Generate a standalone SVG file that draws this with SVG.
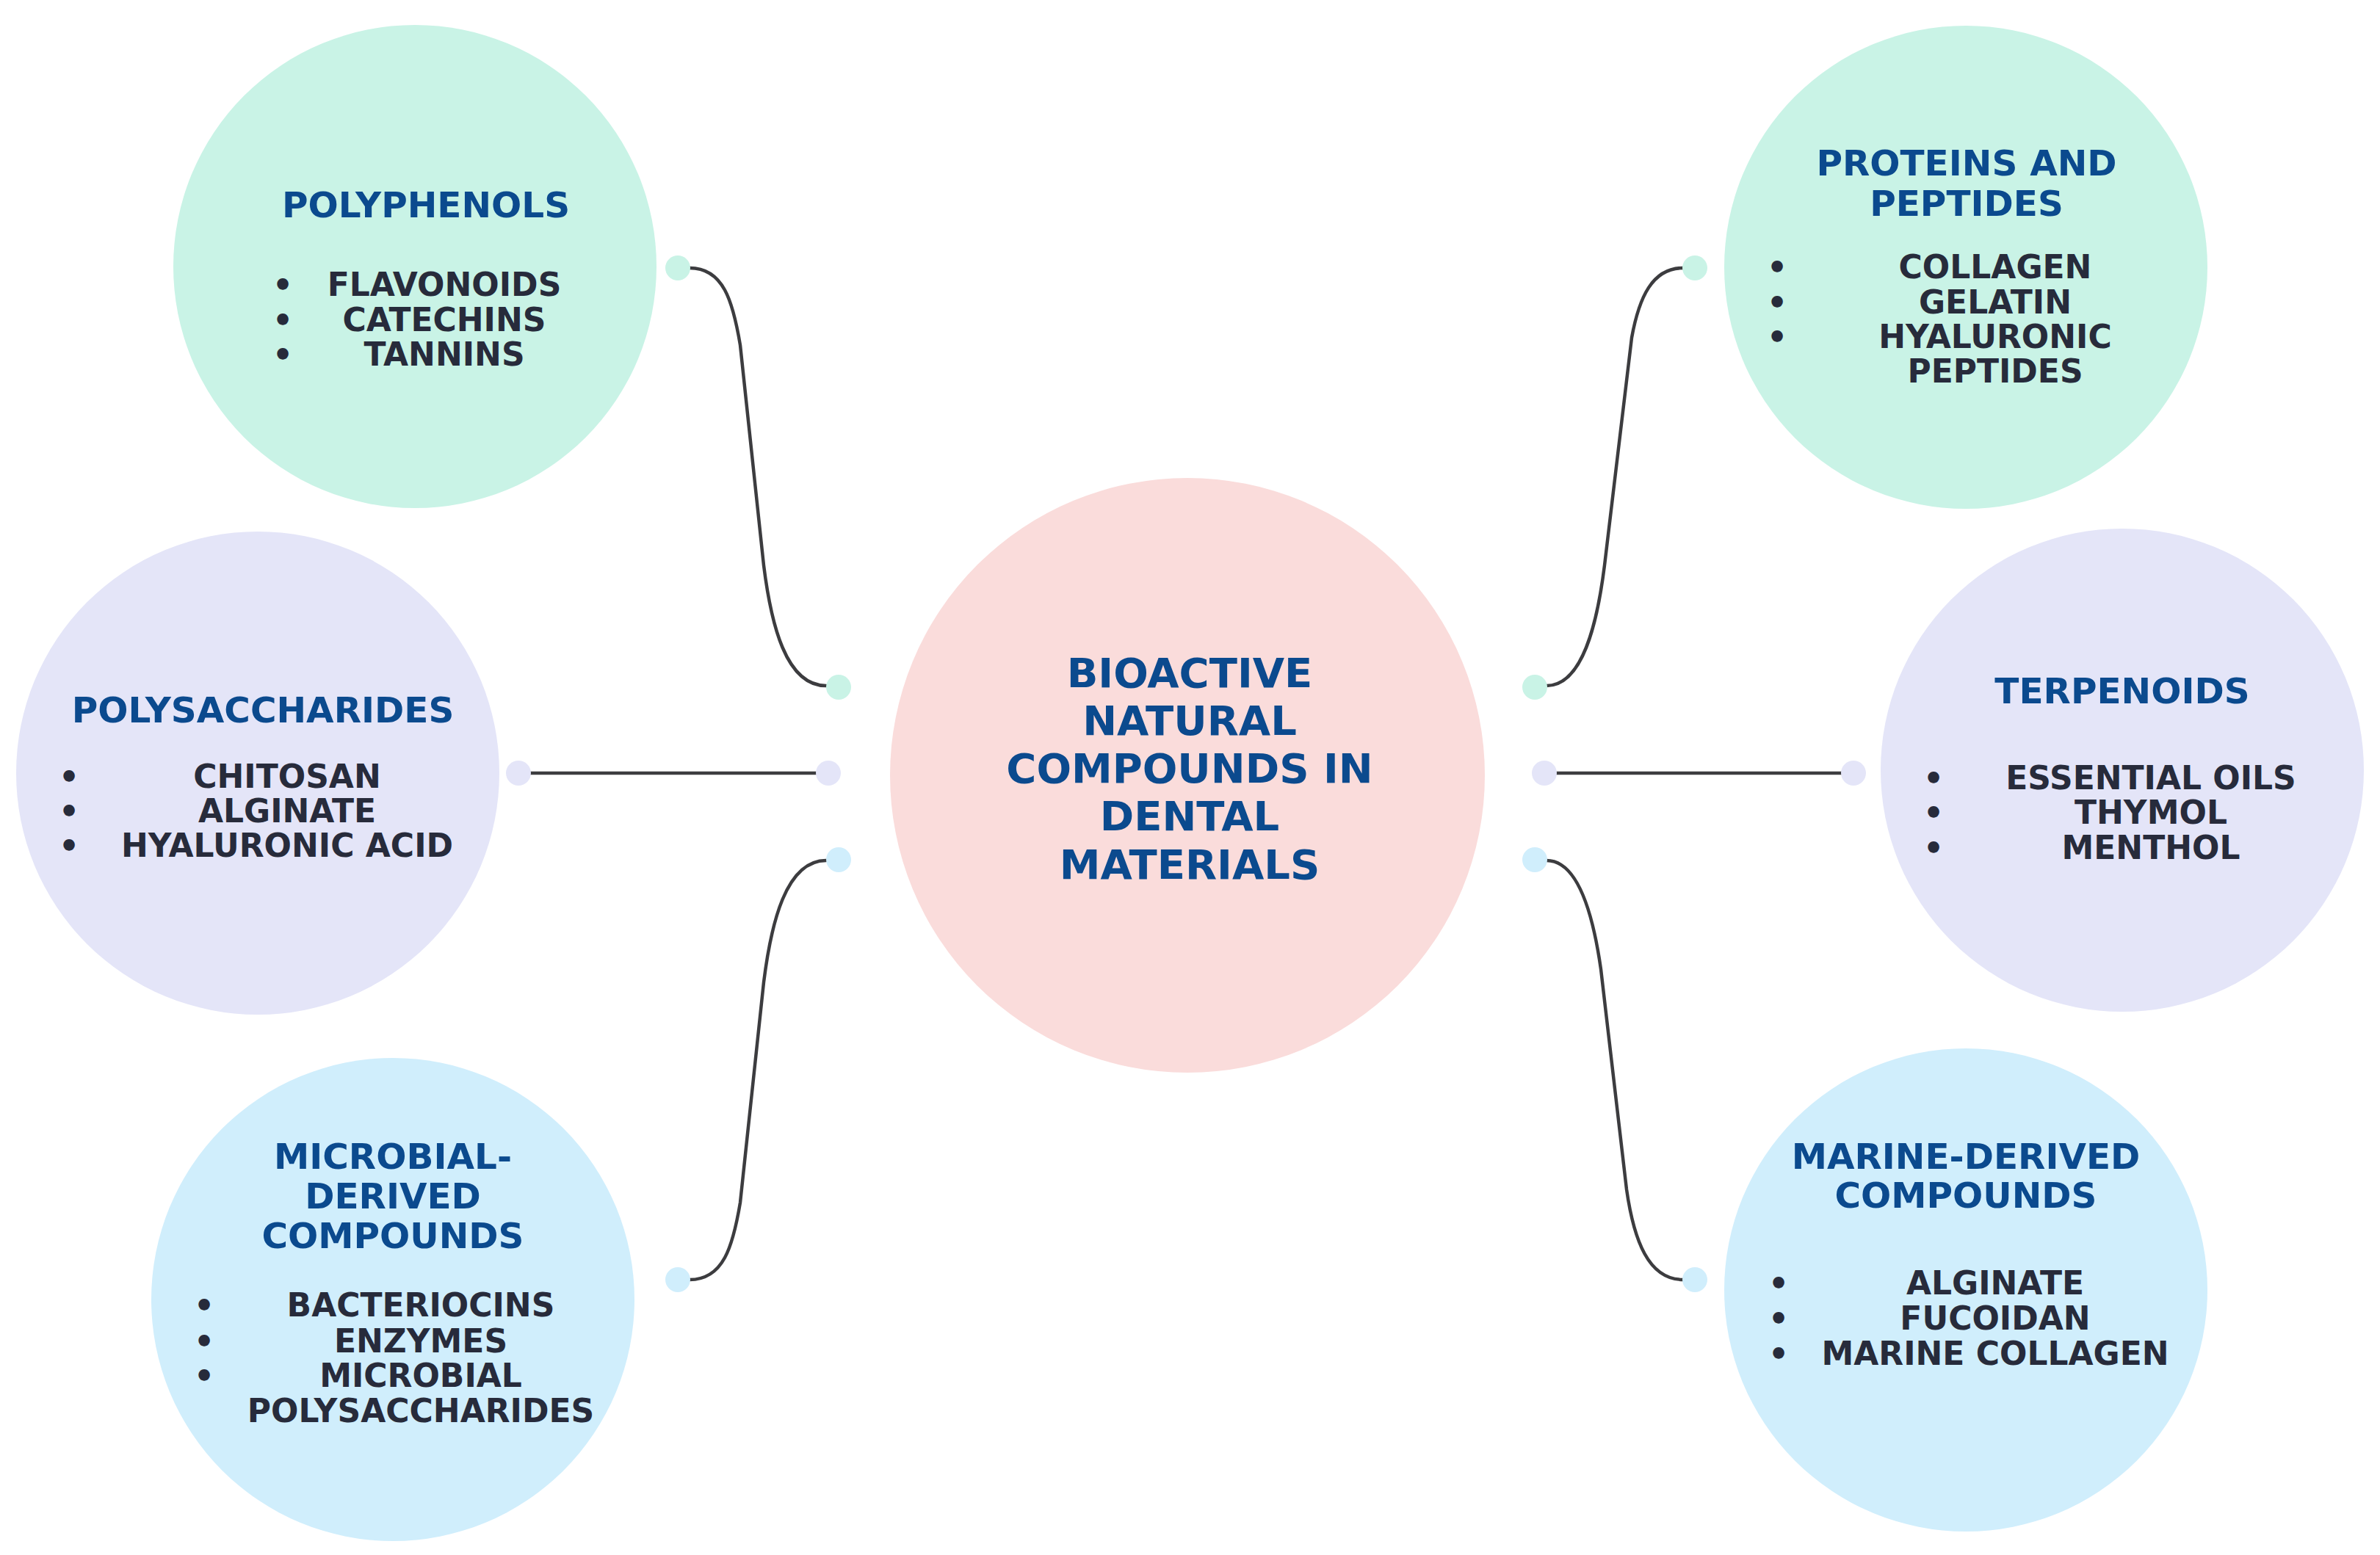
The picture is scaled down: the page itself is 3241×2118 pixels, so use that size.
<svg xmlns="http://www.w3.org/2000/svg" width="3241" height="2118" viewBox="0 0 3241 2118">
<style>
  .t{font-family:"DejaVu Sans","Liberation Sans",sans-serif;font-weight:bold;font-size:48.5px;fill:#0b4a8e;text-anchor:middle}
  .c{font-family:"DejaVu Sans","Liberation Sans",sans-serif;font-weight:bold;font-size:56px;fill:#0b4a8e;text-anchor:middle}
  .i{font-family:"DejaVu Sans","Liberation Sans",sans-serif;font-weight:bold;font-size:44px;fill:#272b3b;text-anchor:middle}
  .mint{fill:#c9f3e6}
  .lav{fill:#e4e5f8}
  .blue{fill:#d0eefc}
  .pink{fill:#fadcdb}
  .conn{fill:none;stroke:#3c3c3f;stroke-width:4.5;stroke-linecap:round}
</style>
<rect width="3241" height="2118" fill="#ffffff"/>

<g id="connectors">
  <path class="conn" d="M939 365 C985 365 998 410 1008 470 L1040 770 C1050 850 1070 934 1125 934"/>
  <line class="conn" x1="722" y1="1053" x2="1111" y2="1053"/>
  <path class="conn" d="M939 1743 C985 1743 998 1698 1008 1638 L1040 1338 C1050 1258 1070 1172 1125 1172"/>
  <path class="conn" d="M2292 365 C2250 365 2232 405 2222 460 L2185 770 C2175 850 2155 934 2106 934"/>
  <line class="conn" x1="2120" y1="1053" x2="2508" y2="1053"/>
  <path class="conn" d="M2106 1172 C2150 1172 2170 1250 2180 1320 L2215 1620 C2225 1690 2245 1743 2292 1743"/>
  <circle class="mint" cx="923" cy="365" r="17"/>
  <circle class="mint" cx="1142" cy="936" r="17"/>
  <circle class="lav" cx="706" cy="1053" r="17"/>
  <circle class="lav" cx="1128" cy="1053" r="17"/>
  <circle class="blue" cx="1142" cy="1171" r="17"/>
  <circle class="blue" cx="923" cy="1743" r="17"/>
  <circle class="mint" cx="2090" cy="936" r="17"/>
  <circle class="mint" cx="2308" cy="365" r="17"/>
  <circle class="lav" cx="2103" cy="1053" r="17"/>
  <circle class="lav" cx="2524" cy="1053" r="17"/>
  <circle class="blue" cx="2090" cy="1171" r="17"/>
  <circle class="blue" cx="2308" cy="1743" r="17"/>
</g>

<g id="center">
  <circle class="pink" cx="1617" cy="1056" r="405"/>
  <text class="c" x="1620" y="936">BIOACTIVE</text>
  <text class="c" x="1620" y="1001">NATURAL</text>
  <text class="c" x="1620" y="1066">COMPOUNDS IN</text>
  <text class="c" x="1620" y="1131">DENTAL</text>
  <text class="c" x="1620" y="1197">MATERIALS</text>
</g>

<g id="polyphenols">
  <circle class="mint" cx="565" cy="363" r="329"/>
  <text class="t" x="580" y="296">POLYPHENOLS</text>
  <text class="i" x="385" y="403">•</text>
  <text class="i" x="385" y="451">•</text>
  <text class="i" x="385" y="498">•</text>
  <text class="i" x="605" y="403">FLAVONOIDS</text>
  <text class="i" x="605" y="451">CATECHINS</text>
  <text class="i" x="605" y="498">TANNINS</text>
</g>

<g id="polysaccharides">
  <circle class="lav" cx="351" cy="1053" r="329"/>
  <text class="t" x="358" y="984">POLYSACCHARIDES</text>
  <text class="i" x="94" y="1073">•</text>
  <text class="i" x="94" y="1120">•</text>
  <text class="i" x="94" y="1167">•</text>
  <text class="i" x="391" y="1073">CHITOSAN</text>
  <text class="i" x="391" y="1120">ALGINATE</text>
  <text class="i" x="391" y="1167">HYALURONIC ACID</text>
</g>

<g id="microbial">
  <circle class="blue" cx="535" cy="1770" r="329"/>
  <text class="t" x="535" y="1592">MICROBIAL-</text>
  <text class="t" x="535" y="1646">DERIVED</text>
  <text class="t" x="535" y="1700">COMPOUNDS</text>
  <text class="i" x="278" y="1793">•</text>
  <text class="i" x="278" y="1842">•</text>
  <text class="i" x="278" y="1889">•</text>
  <text class="i" x="573" y="1793">BACTERIOCINS</text>
  <text class="i" x="573" y="1842">ENZYMES</text>
  <text class="i" x="573" y="1889">MICROBIAL</text>
  <text class="i" x="573" y="1937">POLYSACCHARIDES</text>
</g>

<g id="proteins">
  <circle class="mint" cx="2677" cy="364" r="329"/>
  <text class="t" x="2678" y="239">PROTEINS AND</text>
  <text class="t" x="2678" y="294">PEPTIDES</text>
  <text class="i" x="2420" y="379">•</text>
  <text class="i" x="2420" y="427">•</text>
  <text class="i" x="2420" y="474">•</text>
  <text class="i" x="2717" y="379">COLLAGEN</text>
  <text class="i" x="2717" y="427">GELATIN</text>
  <text class="i" x="2717" y="474">HYALURONIC</text>
  <text class="i" x="2717" y="521">PEPTIDES</text>
</g>

<g id="terpenoids">
  <circle class="lav" cx="2890" cy="1049" r="329"/>
  <text class="t" x="2890" y="958">TERPENOIDS</text>
  <text class="i" x="2633" y="1075">•</text>
  <text class="i" x="2633" y="1122">•</text>
  <text class="i" x="2633" y="1170">•</text>
  <text class="i" x="2929" y="1075">ESSENTIAL OILS</text>
  <text class="i" x="2929" y="1122">THYMOL</text>
  <text class="i" x="2929" y="1170">MENTHOL</text>
</g>

<g id="marine">
  <circle class="blue" cx="2677" cy="1757" r="329"/>
  <text class="t" x="2677" y="1592">MARINE-DERIVED</text>
  <text class="t" x="2677" y="1645">COMPOUNDS</text>
  <text class="i" x="2422" y="1763">•</text>
  <text class="i" x="2422" y="1811">•</text>
  <text class="i" x="2422" y="1859">•</text>
  <text class="i" x="2717" y="1763">ALGINATE</text>
  <text class="i" x="2717" y="1811">FUCOIDAN</text>
  <text class="i" x="2717" y="1859">MARINE COLLAGEN</text>
</g>
</svg>
